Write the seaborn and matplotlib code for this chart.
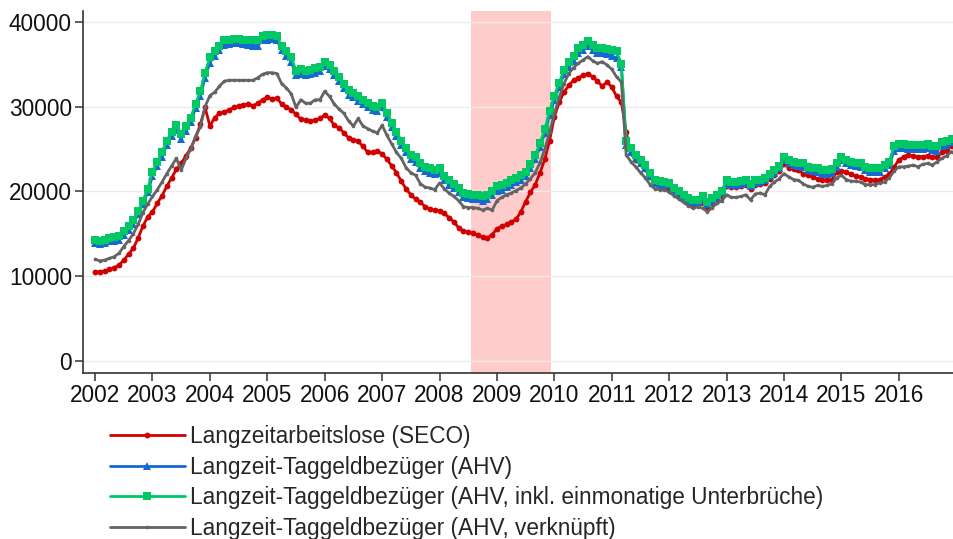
import numpy as np
import pandas as pd
import matplotlib
matplotlib.use("Agg")
import matplotlib.pyplot as plt
import seaborn as sns

# ---- data (monthly, Jan 2002 - Dec 2016) ----
years = list(range(2002, 2017))

seco = [
    10500, 10550, 10600, 10800, 11000, 11300, 11900, 12600, 13300, 14500, 15900, 17000,   # 2002
    17600, 18600, 19500, 20600, 21600, 22600, 23300, 24200, 25100, 26300, 27900, 29900,   # 2003
    27700, 28700, 29200, 29400, 29600, 29900, 30100, 30200, 30300, 30100, 30400, 30800,   # 2004
    31100, 30900, 31000, 30300, 30000, 29600, 29100, 28500, 28400, 28300, 28400, 28600,   # 2005
    29000, 28600, 27800, 27500, 26900, 26300, 26100, 25900, 25300, 24600, 24600, 24800,   # 2006
    24400, 23800, 23000, 22200, 21200, 20300, 19600, 19100, 18700, 18200, 17900, 17800,   # 2007
    17700, 17400, 16900, 16400, 15700, 15300, 15200, 15100, 14800, 14600, 14500, 14900,   # 2008
    15600, 15900, 16100, 16400, 16700, 17600, 18800, 19900, 20800, 22200, 23800, 26000,   # 2009
    28800, 30500, 31700, 32500, 33100, 33400, 33700, 33900, 33500, 33000, 32400, 32900,   # 2010
    32300, 31200, 30500, 27000, 24500, 23700, 23200, 22600, 21700, 21000, 20600, 20400,   # 2011
    20300, 19900, 19500, 19100, 18700, 18400, 18500, 18600, 18200, 18600, 19100, 19500,   # 2012
    20600, 20500, 20500, 20600, 20700, 20300, 20800, 20900, 21000, 21500, 21900, 22400,   # 2013
    23200, 22800, 22600, 22500, 22100, 21900, 21700, 21500, 21400, 21300, 21400, 22300,   # 2014
    22400, 22300, 22000, 21800, 21700, 21500, 21400, 21300, 21400, 21700, 22000, 22900,   # 2015
    23700, 24100, 24300, 24200, 24100, 24100, 24200, 24100, 24000, 24600, 24800, 25300,   # 2016
]

ahv = [
    13900, 13800, 13900, 14100, 14200, 14300, 14900, 15500, 16200, 17300, 18500, 19900,
    21800, 23000, 24100, 25500, 26500, 27200, 26200, 27100, 28200, 29800, 31300, 33400,
    35200, 36000, 36700, 37300, 37400, 37500, 37500, 37400, 37300, 37200, 37200, 37800,
    37900, 38000, 37800, 36700, 36000, 35300, 33700, 33800, 33700, 33800, 34000, 34200,
    34800, 34400, 33700, 33000, 32200, 31400, 31100, 30700, 30300, 29900, 29600, 29500,
    29900, 28800, 27600, 26500, 25500, 24600, 23800, 23500, 22800, 22400, 22200, 22000,
    22200, 21300, 20800, 20400, 19900, 19300, 19200, 19100, 19100, 18900, 19100, 19600,
    20100, 20200, 20500, 20800, 21100, 21400, 21800, 22700, 23800, 25200, 26900, 29000,
    30800, 32300, 33800, 34700, 35400, 36300, 36700, 37100, 36700, 36300, 36300, 36200,
    36000, 35700, 34700, 25500, 24700, 23900, 23300, 22700, 21800, 21000, 20900, 20800,
    20700, 20100, 19700, 19300, 18900, 18700, 18700, 19100, 18500, 18900, 19300, 19800,
    20900, 20800, 20800, 20900, 21000, 20600, 21000, 21100, 21300, 21800, 22200, 22700,
    23700, 23300, 23100, 23000, 22900, 22500, 22400, 22300, 22100, 22100, 22200, 22900,
    23700, 23300, 23100, 23000, 22900, 22500, 22300, 22300, 22300, 22700, 23100, 24800,
    25100, 25100, 25000, 25000, 25000, 25000, 25100, 24900, 24800, 25300, 25500, 25800,
]

ahv_inkl = [
    14300, 14200, 14300, 14500, 14600, 14700, 15300, 15900, 16600, 17700, 18900, 20300,
    22300, 23500, 24600, 26000, 27000, 27800, 26800, 27700, 28700, 30300, 31800, 34000,
    35800, 36500, 37200, 37800, 37900, 38000, 38000, 37900, 37900, 37800, 37800, 38300,
    38400, 38500, 38300, 37200, 36600, 35900, 34200, 34400, 34200, 34300, 34500, 34700,
    35300, 34900, 34200, 33500, 32700, 31900, 31600, 31200, 30800, 30400, 30100, 30000,
    30400, 29300, 28100, 27000, 26000, 25100, 24300, 24000, 23300, 22900, 22700, 22500,
    22700, 21800, 21300, 20900, 20400, 19800, 19700, 19600, 19600, 19400, 19600, 20100,
    20600, 20700, 21000, 21300, 21600, 21900, 22300, 23200, 24300, 25700, 27300, 29500,
    31300, 32800, 34300, 35300, 36000, 36900, 37300, 37700, 37300, 36900, 36900, 36800,
    36700, 36500, 35000, 26000, 25100, 24300, 23700, 23100, 22200, 21400, 21200, 21100,
    21000, 20400, 20000, 19600, 19200, 19000, 19000, 19400, 18800, 19200, 19600, 20100,
    21300, 21100, 21100, 21200, 21300, 20900, 21300, 21400, 21600, 22100, 22500, 23000,
    24100, 23700, 23500, 23400, 23300, 22900, 22800, 22700, 22500, 22500, 22600, 23300,
    24100, 23700, 23500, 23400, 23300, 22900, 22700, 22700, 22700, 23100, 23500, 25300,
    25600, 25600, 25500, 25500, 25500, 25500, 25600, 25400, 25300, 25800, 26000, 26200,
]

ahv_verk = [
    12000, 11800, 11900, 12100, 12300, 12700, 13500, 14200, 15000, 16100, 17500, 18500,
    19400, 20200, 21100, 22100, 23000, 23900, 22500, 23900, 25000, 26500, 27600, 30000,
    31300, 31700, 32400, 33000, 33100, 33100, 33100, 33100, 33100, 33100, 33400, 33800,
    34000, 34000, 33900, 32700, 32200, 31500, 29900, 30800, 30400, 30400, 30800, 30800,
    31800, 31200, 30300, 29700, 29200, 28300, 27700, 28600, 27700, 27400, 27100, 26900,
    27800, 26600, 25600, 24600, 23900, 22800, 22200, 21900, 20900, 20500, 20400, 20200,
    21000, 20300, 19800, 19400, 18900, 18200, 18100, 18100, 18000, 17800, 18000, 17800,
    18900, 19300, 19600, 19800, 20100, 20400, 20900, 21500, 22200, 23400, 25000, 27000,
    29200, 31100, 32700, 33900, 34600, 35100, 35500, 35900, 35400, 35100, 35300, 34900,
    34400, 33500, 32900, 24300, 23500, 22900, 22200, 21600, 20800, 20300, 20200, 20200,
    19900, 19500, 19100, 18700, 18300, 18000, 18200, 18000, 17600, 18100, 18600, 18900,
    19600, 19300, 19300, 19400, 19600, 19000, 19700, 19800, 19600, 20600, 21100, 21500,
    22100, 21700, 21400, 21300, 20900, 20600, 20500, 20700, 20600, 20700, 20900, 21600,
    21900, 21400, 21200, 21200, 21100, 20800, 20800, 20800, 21000, 21100, 21600, 22400,
    22900, 22900, 23000, 23100, 22900, 23200, 23300, 23100, 23500, 23900, 24200, 24700,
]

labels = [
    "Langzeitarbeitslose (SECO)",
    "Langzeit-Taggeldbezüger (AHV)",
    "Langzeit-Taggeldbezüger (AHV, inkl. einmonatige Unterbrüche)",
    "Langzeit-Taggeldbezüger (AHV, verknüpft)",
]
recession = (2008.55, 2009.94)
yticks = [0, 10000, 20000, 30000, 40000]

# ---- build table ----
n = len(seco)
t = [2002 + i / 12 for i in range(n)]
df = pd.DataFrame({"t": t, labels[0]: seco, labels[1]: ahv,
                   labels[2]: ahv_inkl, labels[3]: ahv_verk})

sns.set_style("white")
plt.rcParams["font.family"] = ["Liberation Sans", "DejaVu Sans"]

fig = plt.figure(figsize=(9.54, 5.39), dpi=100)
ax = fig.add_axes([0.087, 0.308, 0.913, 0.672])

ax.axvspan(*recession, color="#ffcccc", lw=0, zorder=0)

styles = [
    dict(color="#d00000", marker="o", markersize=4.2, markeredgewidth=0),
    dict(color="#1469d2", marker="^", markersize=5.8, markeredgewidth=0),
    dict(color="#00c864", marker="s", markersize=5.4, markeredgewidth=0),
    dict(color="#646464", marker="o", markersize=2.6, markeredgewidth=0),
]
for lab, st in zip(labels, styles):
    sns.lineplot(data=df, x="t", y=lab, ax=ax, label=lab, linewidth=2.0,
                 zorder=3, **st)

ax.set_xlim(2001.79, 2016.96)
ax.set_ylim(-1416, 41300)
ax.set_xticks(years)
ax.set_xticklabels([str(y) for y in years])
ax.set_yticks(yticks)
ax.set_yticklabels([str(v) for v in yticks])
ax.set_xlabel("")
ax.set_ylabel("")
ax.yaxis.grid(True, color="#ebebeb", linewidth=1.0)
ax.xaxis.grid(False)
for s in ["top", "right"]:
    ax.spines[s].set_visible(False)
for s in ["left", "bottom"]:
    ax.spines[s].set_color("#333333")
    ax.spines[s].set_linewidth(1.2)
ax.tick_params(axis="both", which="both", direction="out", length=6, width=1.1,
               color="#333333", labelsize=16.3, labelcolor="#111111", pad=2)
ax.tick_params(axis="x", bottom=True)
ax.tick_params(axis="y", left=True)

handles, labs = ax.get_legend_handles_labels()
ax.get_legend().remove()
fig.legend(handles, labs, loc="upper left", bbox_to_anchor=(0.1153, 0.211),
           frameon=False, fontsize=16.3, handlelength=3.3, handletextpad=0.25,
           labelspacing=0.33, numpoints=1, borderaxespad=0, borderpad=0)

fig.savefig("out.png", dpi=100)
